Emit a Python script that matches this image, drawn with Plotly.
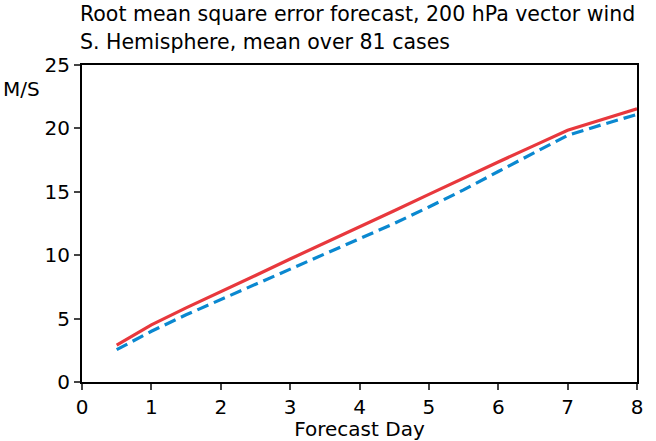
import plotly.graph_objects as go

days = [0.5, 1, 1.5, 2, 2.5, 3, 3.5, 4, 4.5, 5, 5.5, 6, 6.5, 7, 7.5, 8]
rmse_red = [2.9, 4.5, 5.85, 7.1, 8.4, 9.7, 10.95, 12.2, 13.5, 14.8, 16.1, 17.35, 18.6, 19.85, 20.7, 21.55]
rmse_blue = [2.55, 4.0, 5.3, 6.5, 7.65, 8.85, 10.05, 11.3, 12.5, 13.8, 15.15, 16.6, 18.0, 19.45, 20.3, 21.1]

x_ticks = [0, 1, 2, 3, 4, 5, 6, 7, 8]
y_ticks = [0, 5, 10, 15, 20, 25]

title_lines = ["Root mean square error forecast, 200 hPa vector wind",
               "S. Hemisphere, mean over 81 cases"]

FONT = "DejaVu Sans, Liberation Sans, Arial, sans-serif"

fig = go.Figure()
fig.add_trace(go.Scatter(x=days, y=rmse_red, mode="lines",
                         line=dict(color="#e8383d", width=3.2), showlegend=False))
fig.add_trace(go.Scatter(x=days, y=rmse_blue, mode="lines",
                         line=dict(color="#0a88d0", width=3.2, dash="12px,6px"), showlegend=False))

fig.update_layout(
    width=656, height=441,
    margin=dict(l=82, r=19, t=65, b=59, autoexpand=False),
    paper_bgcolor="white", plot_bgcolor="white",
    font=dict(family=FONT, size=20, color="black"),
    showlegend=False,
)
fig.update_xaxes(range=[0, 8], tickvals=x_ticks, ticks="outside", ticklen=6, tickwidth=2,
                 showline=True, linewidth=2, linecolor="black", mirror=True,
                 showgrid=False, zeroline=False, automargin=False,
                 title=dict(text="Forecast Day", standoff=0, font=dict(size=20)),
                 tickfont=dict(size=20))
fig.update_yaxes(range=[0, 25], tickvals=y_ticks, ticks="outside", ticklen=6, tickwidth=2,
                 showline=True, linewidth=2, linecolor="black", mirror=True,
                 showgrid=False, zeroline=False, automargin=False, tickfont=dict(size=20))

fig.add_annotation(text=title_lines[0], xref="paper", yref="paper", x=0, y=1,
                   xanchor="left", yanchor="middle", xshift=-4, yshift=51, showarrow=False,
                   font=dict(size=20.5))
fig.add_annotation(text=title_lines[1], xref="paper", yref="paper", x=0, y=1,
                   xanchor="left", yanchor="middle", xshift=-4, yshift=23, showarrow=False,
                   font=dict(size=20.5))
fig.add_annotation(text="M/S", xref="paper", yref="paper", x=0, y=1,
                   xanchor="right", yanchor="middle", xshift=-40, yshift=-24, showarrow=False,
                   font=dict(size=20))

fig.write_html("out.html")
